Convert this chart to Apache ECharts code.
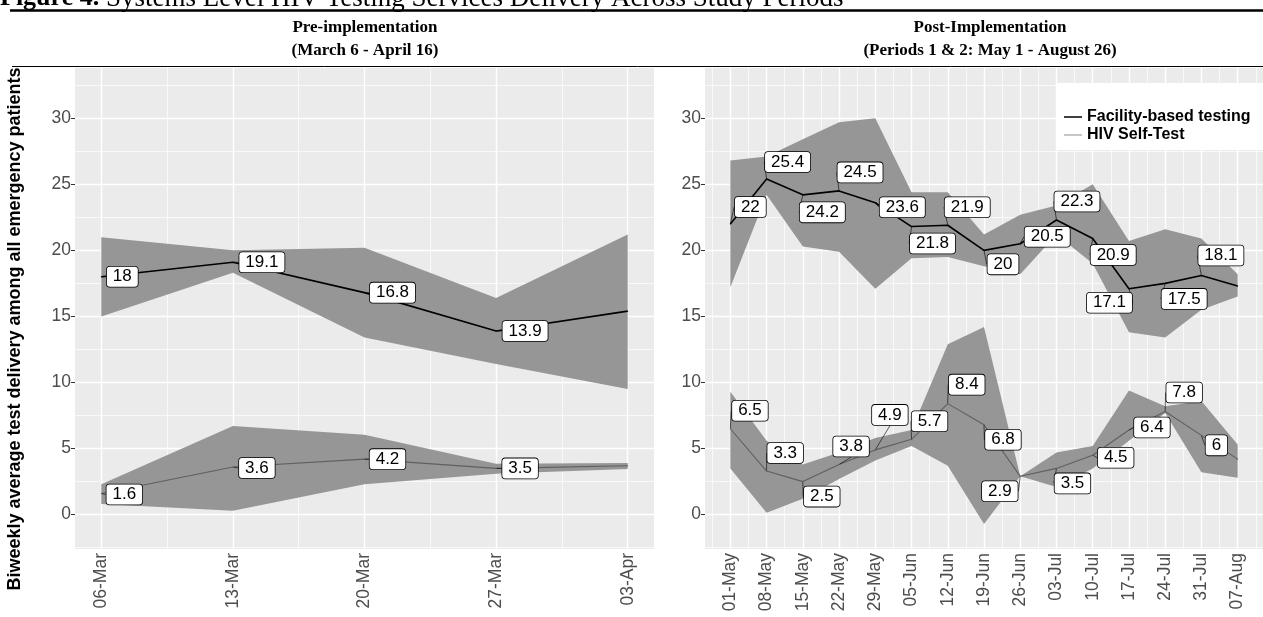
<!DOCTYPE html>
<html><head><meta charset="utf-8">
<script src="https://cdn.jsdelivr.net/npm/echarts@6/dist/echarts.min.js"></script>
<style>html,body{margin:0;padding:0;background:#fff}#c{width:1263px;height:617px}</style>
</head><body><div id="c"></div>
<script>
// ---------------- data ----------------
const preDates = ['2023-03-06','2023-03-13','2023-03-20','2023-03-27','2023-04-03'];
const preFacility     = [18, 19.1, 16.8, 13.9, 15.4];
const preFacilityLow  = [15.0, 18.3, 13.4, 11.4, 9.5];
const preFacilityHigh = [21.0, 20.0, 20.2, 16.4, 21.2];
const preSelf     = [1.6, 3.6, 4.2, 3.5, 3.7];
const preSelfLow  = [0.8, 0.3, 2.3, 3.1, 3.45];
const preSelfHigh = [2.3, 6.7, 6.05, 3.85, 3.9];

const postDates = ['2023-05-01','2023-05-08','2023-05-15','2023-05-22','2023-05-29','2023-06-05','2023-06-12',
  '2023-06-19','2023-06-26','2023-07-03','2023-07-10','2023-07-17','2023-07-24','2023-07-31','2023-08-07'];
const postFacility     = [22, 25.4, 24.2, 24.5, 23.6, 21.8, 21.9, 20, 20.5, 22.3, 20.9, 17.1, 17.5, 18.1, 17.3];
const postFacilityLow  = [17.2, 24.2, 20.3, 19.9, 17.1, 19.4, 19.5, 18.8, 18.2, 21.2, 19.0, 13.8, 13.4, 15.5, 16.5];
const postFacilityHigh = [26.8, 27.1, 28.4, 29.7, 30.0, 24.4, 24.4, 21.2, 22.7, 23.4, 25.0, 20.7, 21.6, 20.9, 18.2];
const postSelf     = [6.5, 3.3, 2.5, 3.8, 4.9, 5.7, 8.4, 6.8, 2.9, 3.5, 4.5, 6.4, 7.8, 6, 4.2];
const postSelfLow  = [3.5, 0.15, 1.2, 2.7, 4.1, 5.2, 3.7, -0.7, 2.9, 2.1, 3.5, 5.6, 7.7, 3.2, 2.8];
const postSelfHigh = [9.3, 5.6, 3.8, 4.7, 5.8, 6.4, 12.9, 14.2, 2.9, 4.7, 5.2, 9.4, 8.2, 8.6, 5.3];

const yTicks = [0, 5, 10, 15, 20, 25, 30];
const seriesNames = ['Facility-based testing', 'HIV Self-Test'];
const panelTitles = [['Pre-implementation', '(March 6 - April 16)'],
                     ['Post-Implementation', '(Periods 1 & 2: May 1 - August 26)']];
const yTitle = 'Biweekly average test delivery among all emergency patients';
const figureCaption = ['Figure 4.', ' Systems Level HIV Testing Services Delivery Across Study Periods'];

// label placement (ggrepel look), pixel offsets of label centre from point
const preFacOff  = [[21,0],[29,0],[28,0],[29,0]];
const preSelfOff = [[23,1],[24,1],[23,0],[24,0]];
const postFacOff = [[20,-17],[21,-17],[19.5,17.5],[21,-18.5],[27,4.5],[21,17],[19.5,-18],[19,14],[27,-7],[20.5,-18.5],[20.5,16.5],[-19.5,14],[19,15.5],[19.5,-20]];
const postSelfOff= [[19.6,-18],[18.6,-18],[19,15],[12,-18],[14.6,-35],[18,-18],[19,-19],[19,15],[-20.4,15],[16,15],[23,2.5],[23,-2.5],[19,-19],[15,10]];

// ---------------- helpers ----------------
const DAY = 86400000;
const MONTHS = ['Jan','Feb','Mar','Apr','May','Jun','Jul','Aug','Sep','Oct','Nov','Dec'];
const ts = s => Date.parse(s + 'T00:00:00Z');
const fmt = v => { const d = new Date(v); return String(d.getUTCDate()).padStart(2,'0') + '-' + MONTHS[d.getUTCMonth()]; };
const YMIN = -2.6, YMAX = 33.8;
const SANS = 'Arial, "Liberation Sans", sans-serif';

function gridLines(dates, xmin, xmax) {
  const t = dates.map(ts);
  const data = [];
  for (let v = -2.5; v <= YMAX; v += 5) if (v > YMIN) data.push({yAxis: v, lineStyle: {width: 0.7}});
  for (let v = t[0] - 3.5 * DAY; v <= t[t.length - 1] + 3.5 * DAY; v += 7 * DAY)
    if (v > xmin && v < xmax) data.push({xAxis: v, lineStyle: {width: 0.7}});
  yTicks.forEach(v => data.push({yAxis: v, lineStyle: {width: 1.4}}));
  t.forEach(v => data.push({xAxis: v, lineStyle: {width: 1.4}}));
  return {silent: true, symbol: 'none', z: 1, label: {show: false}, emphasis: {disabled: true},
          lineStyle: {color: '#ffffff', type: 'solid'}, data: data};
}

function pairs(dates, vals) { return dates.map((d, i) => [ts(d), vals[i]]); }

function labelCfg() {
  return {show: true, position: 'inside', color: '#000', fontSize: 17, fontFamily: SANS,
    backgroundColor: '#fff', borderColor: '#000', borderWidth: 0.8, borderRadius: 3, padding: [2, 6, 1, 6],
    formatter: p => String(p.value[1])};
}

const axesX = [], axesY = [], series = [];
[[preDates, preFacility, preFacilityLow, preFacilityHigh, preSelf, preSelfLow, preSelfHigh, preFacOff, preSelfOff],
 [postDates, postFacility, postFacilityLow, postFacilityHigh, postSelf, postSelfLow, postSelfHigh, postFacOff, postSelfOff]]
.forEach((P, k) => {
  const [dates, fac, facLo, facHi, self, selfLo, selfHi, facOff, selfOff] = P;
  const t = dates.map(ts);
  const span = t[t.length - 1] - t[0];
  const xmin = t[0] - 0.05 * span, xmax = t[t.length - 1] + 0.05 * span;
  axesX.push({type: 'value', gridIndex: k, min: xmin, max: xmax, splitLine: {show: false},
    axisLine: {show: false},
    axisTick: {show: true, customValues: t, length: 4, lineStyle: {color: '#333', width: 1}},
    axisLabel: {customValues: t, formatter: fmt, rotate: 90, color: '#4D4D4D', fontSize: 17.5, margin: 4, fontFamily: SANS}});
  axesY.push({type: 'value', gridIndex: k, min: YMIN, max: YMAX, splitLine: {show: false},
    axisLine: {show: false},
    axisTick: {show: true, customValues: yTicks, length: 4, lineStyle: {color: '#333', width: 1}},
    axisLabel: {customValues: yTicks, color: '#4D4D4D', fontSize: 17.5, margin: 4, fontFamily: SANS}});

  const band = (name, lo, hi, withGrid) => {
    const rows = dates.map((d, i) => [ts(d), lo[i], hi[i]]);
    series.push({type: 'custom', name: name, xAxisIndex: k, yAxisIndex: k, z: 2, silent: true,
      encode: {x: 0, y: [1, 2]}, data: rows, clip: true,
      renderItem: (params, api) => {
        if (params.dataIndex !== 0) return null;
        const up = rows.map(r => api.coord([r[0], r[2]]));
        const dn = rows.map(r => api.coord([r[0], r[1]])).reverse();
        return {type: 'polygon', shape: {points: up.concat(dn)}, style: {fill: '#969696'}};
      },
      markLine: withGrid ? gridLines(dates, xmin, xmax) : undefined});
  };
  band('facBand' + k, facLo, facHi, true);
  band('selfBand' + k, selfLo, selfHi, false);

  const lineSeries = (name, vals, off, color, width) => ({
    type: 'line', name: name, xAxisIndex: k, yAxisIndex: k, z: 3,
    data: pairs(dates, vals).map((d, i) => ({value: d, label: {show: i < off.length}})),
    symbol: 'circle', symbolSize: 1, showSymbol: true, itemStyle: {color: color},
    lineStyle: {color: color, width: width}, emphasis: {disabled: true},
    label: labelCfg(),
    labelLine: {show: true, lineStyle: {color: '#000', width: 0.6}},
    labelLayout: p => { const o = off[p.dataIndex] || [0, 0]; return {dx: o[0], dy: o[1]}; }
  });
  series.push(lineSeries(seriesNames[0], fac, facOff, '#000000', 1.6));
  series.push(lineSeries(seriesNames[1], self, selfOff, '#5f5f5f', 1.1));
});

const serif = '"Liberation Serif", "Times New Roman", serif';
const graphic = [
  {type: 'text', x: 0, y: 12, style: {text: '{b|' + figureCaption[0] + '}{r|' + figureCaption[1] + '}', verticalAlign: 'bottom',
    rich: {b: {font: 'bold 26px ' + serif, fill: '#000'}, r: {font: '27px ' + serif, fill: '#000'}}}},
  {type: 'line', shape: {x1: 10, y1: 10.5, x2: 1263, y2: 10.5}, style: {stroke: '#000', lineWidth: 2.5}},
  {type: 'line', shape: {x1: 12, y1: 66.5, x2: 1263, y2: 66.5}, style: {stroke: '#000', lineWidth: 1}},
  {type: 'text', x: 365, y: 28, style: {text: panelTitles[0][0], font: 'bold 17px ' + serif, fill: '#000', align: 'center', verticalAlign: 'middle'}},
  {type: 'text', x: 365, y: 51, style: {text: panelTitles[0][1], font: 'bold 17px ' + serif, fill: '#000', align: 'center', verticalAlign: 'middle'}},
  {type: 'text', x: 990, y: 28, style: {text: panelTitles[1][0], font: 'bold 17px ' + serif, fill: '#000', align: 'center', verticalAlign: 'middle'}},
  {type: 'text', x: 990, y: 51, style: {text: panelTitles[1][1], font: 'bold 17px ' + serif, fill: '#000', align: 'center', verticalAlign: 'middle'}},
  {type: 'text', x: 15, y: 329, rotation: Math.PI / 2, style: {text: yTitle, font: 'bold 18px ' + SANS, fill: '#000', align: 'center', verticalAlign: 'middle'}}
];

const chart = echarts.init(document.getElementById('c'), null, {renderer: 'canvas'});
chart.setOption({
  animation: false,
  backgroundColor: '#fff',
  grid: [
    {left: 75, right: 1263 - 654, top: 68, bottom: 617 - 549, show: true, backgroundColor: '#EBEBEB', borderWidth: 0},
    {left: 705, right: -12, top: 68, bottom: 617 - 549, show: true, backgroundColor: '#EBEBEB', borderWidth: 0}
  ],
  xAxis: axesX,
  yAxis: axesY,
  legend: {data: [{name: seriesNames[0]}, {name: seriesNames[1], itemStyle: {color: '#b5b5b5'}}],
    orient: 'vertical', left: 1057, top: 83, icon: 'rect', itemWidth: 18, itemHeight: 1.5, itemGap: 2,
    backgroundColor: '#fff', padding: [26, 30, 7, 7], selectedMode: false,
    textStyle: {fontSize: 16, fontWeight: 'bold', color: '#000', fontFamily: SANS}},
  series: series,
  graphic: graphic
});
</script></body></html>
